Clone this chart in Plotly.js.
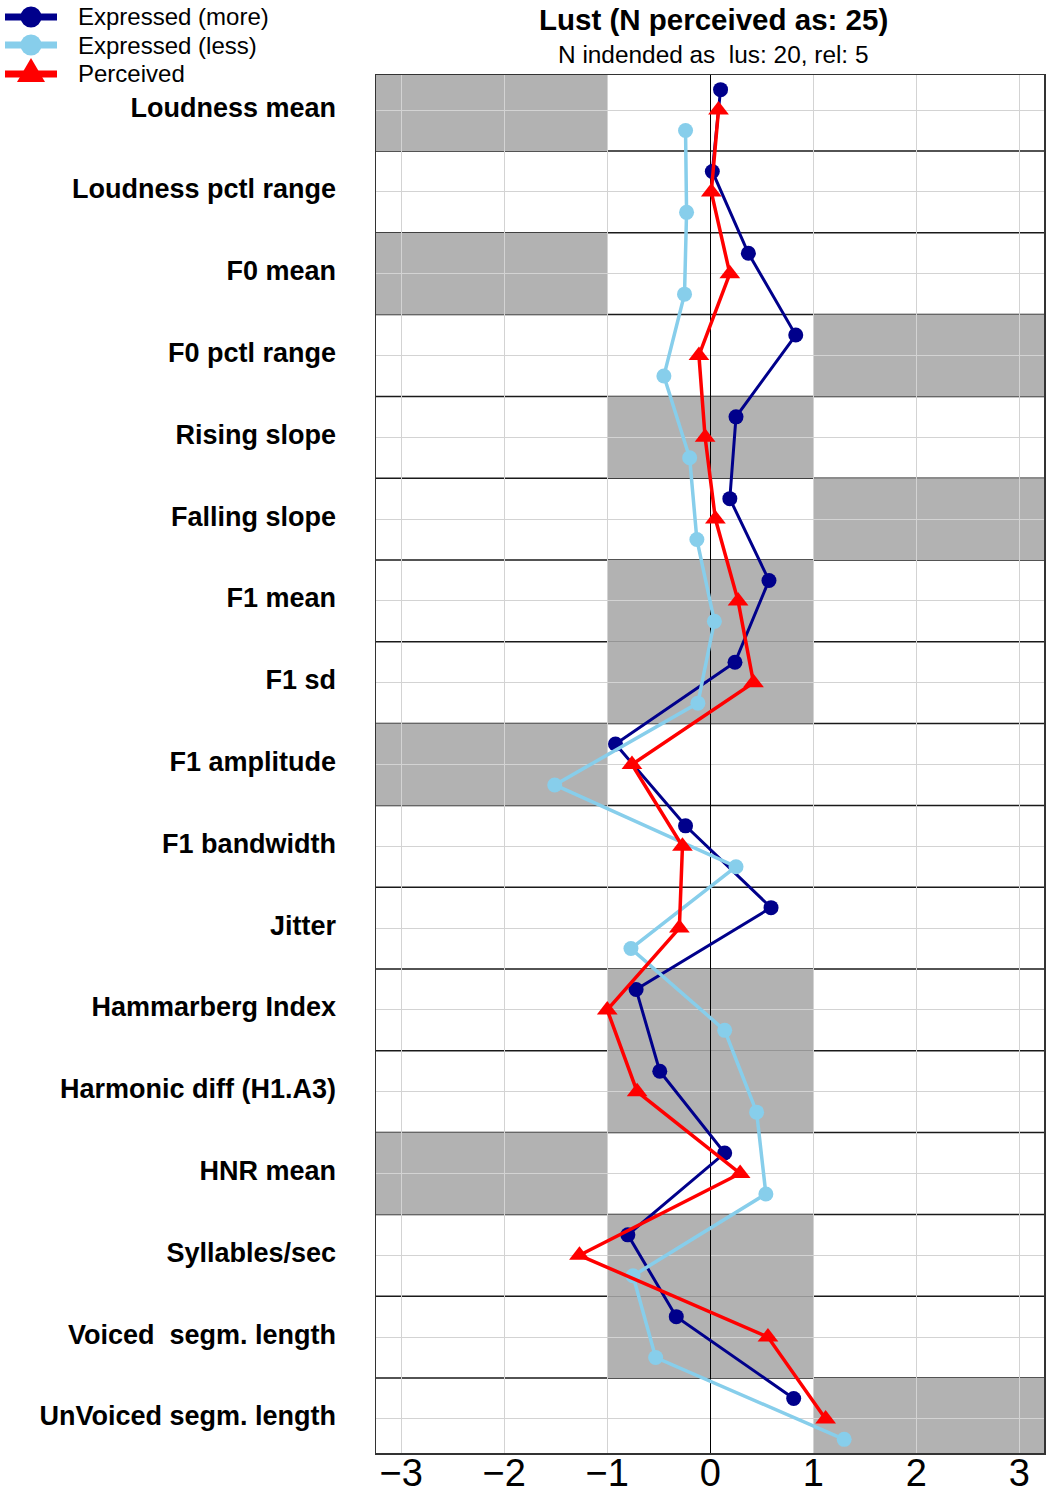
<!DOCTYPE html>
<html>
<head>
<meta charset="utf-8">
<script src="https://cdn.plot.ly/plotly-3.0.1.min.js"></script>
<style>
  html, body { margin: 0; padding: 0; background: #fff; }
  #chart { width: 1048px; height: 1494px; }
</style>
</head>
<body>
<div id="chart"></div>
<script>
// Categories (top to bottom)
const categories = [
  "Loudness mean", "Loudness pctl range", "F0 mean", "F0 pctl range",
  "Rising slope", "Falling slope", "F1 mean", "F1 sd", "F1 amplitude",
  "F1 bandwidth", "Jitter", "Hammarberg Index", "Harmonic diff (H1.A3)",
  "HNR mean", "Syllables/sec", "Voiced  segm. length", "UnVoiced segm. length"
];

// Series values (z-scores)
const expressedMore = [0.10, 0.02, 0.37, 0.83, 0.25, 0.19, 0.57, 0.24, -0.92, -0.24, 0.59, -0.72, -0.49, 0.14, -0.80, -0.33, 0.81];
const expressedLess = [-0.24, -0.23, -0.25, -0.45, -0.20, -0.13, 0.04, -0.12, -1.51, 0.25, -0.77, 0.14, 0.45, 0.54, -0.75, -0.53, 1.30];
const perceived     = [0.08, 0.01, 0.19, -0.11, -0.05, 0.05, 0.27, 0.42, -0.76, -0.27, -0.30, -1.00, -0.71, 0.29, -1.27, 0.56, 1.12];

// Shaded ranges per category: "low" = below -1, "mid" = -1..1, "high" = above 1, "" = none
const shading = ["low", "", "low", "high", "mid", "high", "mid", "mid", "low", "", "", "mid", "mid", "low", "mid", "mid", "high"];

// Tick labels
const xTicks = [-3, -2, -1, 0, 1, 2, 3];

// Series names and colours (legend)
const seriesNames = ["Expressed (more)", "Expressed (less)", "Perceived"];
const seriesColors = ["#00008B", "#87CEEB", "#FF0000"];

const titleText = "Lust (N perceived as: 25)";
const subtitleText = "N indended as \u00A0lus: 20, rel: 5";

const XMIN = -3.245, XMAX = 3.24;
const FONT = "Liberation Sans, Arial, Helvetica, sans-serif";

// plot geometry (pixels) used to place items outside the plot area
const W = 1048, H = 1494, ML = 376, MR = 4, MT = 75, MB = 41;
const PW = W - ML - MR, PH = H - MT - MB;
const px2x = p => (p - ML) / PW;
const py2y = p => (H - MB - p) / PH;

const idx = categories.map((_, i) => i);
const yMore = idx.map(i => i - 0.25);
const yPerc = idx.map(i => i);
const yLess = idx.map(i => i + 0.25);

const traces = [
  {
    x: expressedMore, y: yMore, type: "scatter", mode: "lines+markers",
    name: seriesNames[0],
    line: { color: seriesColors[0], width: 3 },
    marker: { color: seriesColors[0], size: 15, symbol: "circle" }
  },
  {
    x: expressedLess, y: yLess, type: "scatter", mode: "lines+markers",
    name: seriesNames[1],
    line: { color: seriesColors[1], width: 3.5 },
    marker: { color: seriesColors[1], size: 15, symbol: "circle" }
  },
  {
    x: perceived, y: yPerc, type: "scatter", mode: "lines+markers",
    name: seriesNames[2],
    line: { color: seriesColors[2], width: 3.5 },
    marker: { color: seriesColors[2], size: 18, symbol: "triangle-up" }
  }
];

const shapes = [];
shading.forEach((s, i) => {
  if (!s) return;
  let x0, x1;
  if (s === "low") { x0 = XMIN; x1 = -1; }
  else if (s === "mid") { x0 = -1; x1 = 1; }
  else { x0 = 1; x1 = XMAX; }
  shapes.push({
    type: "rect", xref: "x", yref: "y", x0: x0, x1: x1, y0: i - 0.5, y1: i + 0.5,
    fillcolor: "#B2B2B2", line: { width: 0 }, layer: "below"
  });
});
for (let i = 0; i < categories.length - 1; i++) {
  shapes.push({
    type: "line", xref: "paper", yref: "y", x0: 0, x1: 1, y0: i + 0.5, y1: i + 0.5,
    line: { color: "#1a1a1a", width: 1.5 }, layer: "between"
  });
}

// custom legend (to match the reference's compact spacing)
const annotations = [];
const legendY = [17, 45, 74];
const legendCX = 31;
seriesNames.forEach((name, k) => {
  const ay = py2y(legendY[k]);
  const ax = px2x(legendCX);
  shapes.push({
    type: "line", xref: "paper", yref: "paper", xsizemode: "pixel", ysizemode: "pixel",
    xanchor: ax, yanchor: ay, x0: -26, x1: 26, y0: 0, y1: 0,
    line: { color: seriesColors[k], width: 7 }, layer: "above"
  });
  if (k < 2) {
    shapes.push({
      type: "circle", xref: "paper", yref: "paper", xsizemode: "pixel", ysizemode: "pixel",
      xanchor: ax, yanchor: ay, x0: -10.5, x1: 10.5, y0: -10.5, y1: 10.5,
      fillcolor: seriesColors[k], line: { width: 0 }, layer: "above"
    });
  } else {
    shapes.push({
      type: "path", xref: "paper", yref: "paper", xsizemode: "pixel", ysizemode: "pixel",
      xanchor: ax, yanchor: ay, path: "M-14,-8 L14,-8 L0,16 Z",
      fillcolor: seriesColors[k], line: { width: 0 }, layer: "above"
    });
  }
  annotations.push({
    text: name, xref: "paper", yref: "paper", x: px2x(76), y: ay,
    xanchor: "left", yanchor: "middle", showarrow: false,
    font: { family: FONT, size: 24, color: "#000" }
  });
});

annotations.push(
  { text: titleText, xref: "paper", yref: "paper", x: px2x(713), y: py2y(20),
    xanchor: "center", yanchor: "middle", showarrow: false,
    font: { family: FONT, size: 29.5, color: "#000", weight: "bold" } },
  { text: subtitleText, xref: "paper", yref: "paper", x: px2x(713), y: py2y(55),
    xanchor: "center", yanchor: "middle", showarrow: false,
    font: { family: FONT, size: 24.4, color: "#000" } }
);

const layout = {
  width: W, height: H,
  margin: { l: ML, r: MR, t: MT, b: MB, pad: 0 },
  paper_bgcolor: "#ffffff", plot_bgcolor: "#ffffff",
  font: { family: FONT, color: "#000000" },
  showlegend: false,
  xaxis: {
    range: [XMIN, XMAX], tickvals: xTicks, ticktext: xTicks.map(v => (v < 0 ? "\u2212" + Math.abs(v) : String(v))),
    showgrid: true, gridcolor: "#D3D3D3", gridwidth: 1,
    zeroline: true, zerolinecolor: "#000000", zerolinewidth: 1,
    showline: true, mirror: true, linecolor: "#333333", linewidth: 1.5,
    ticks: "", ticklabelstandoff: -14,
    tickfont: { family: FONT, size: 38, color: "#000" }
  },
  yaxis: {
    range: [16.417, -0.429], tickvals: idx, ticktext: categories,
    showgrid: true, gridcolor: "#D3D3D3", gridwidth: 1,
    zeroline: false,
    showline: true, mirror: true, linecolor: "#333333", linewidth: 1.5,
    ticks: "", ticklabelstandoff: 33, ticklabelshift: 3,
    tickfont: { family: FONT, size: 27, color: "#000", weight: "bold" }
  },
  shapes: shapes,
  annotations: annotations
};

Plotly.newPlot("chart", traces, layout, { displayModeBar: false, staticPlot: true });
</script>
</body>
</html>
